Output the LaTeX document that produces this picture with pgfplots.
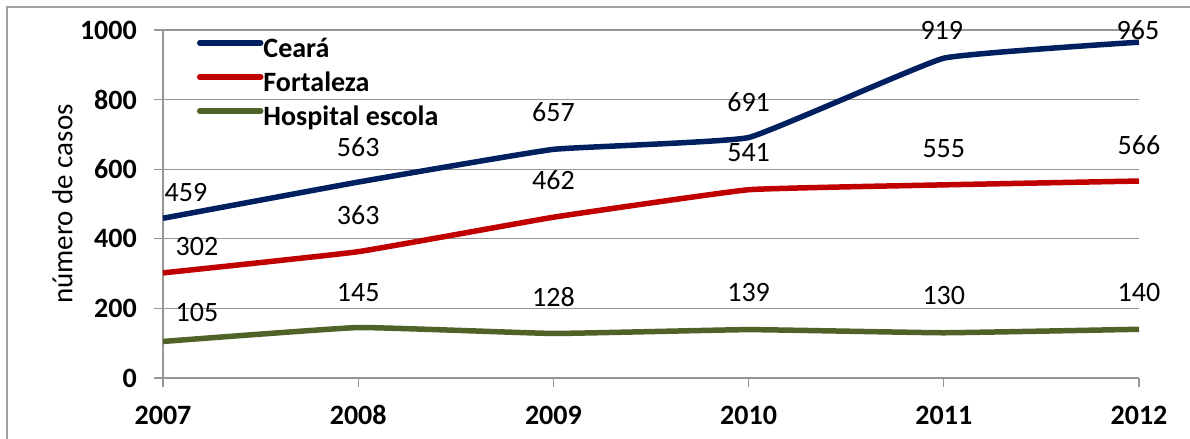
\documentclass[border=0pt]{standalone}
\usepackage{pgfplots}
\pgfplotsset{compat=1.18}
\usepackage{pgfplotstable}
\usepackage{fontspec}
\setmainfont{Carlito}
\definecolor{ceara}{RGB}{0,32,96}
\definecolor{forta}{RGB}{192,0,0}
\definecolor{hosp}{RGB}{79,98,40}
\definecolor{gridc}{RGB}{150,150,150}
\definecolor{framec}{RGB}{160,160,160}
\pgfplotstableread{
x y dx dy
2007 459 23 26
2008 563 0 35
2009 657 0 37
2010 691 0 35
2011 919 -2 28
2012 965 -1 12
}\ceara
\pgfplotstableread{
x y dx dy
2007 302 34 26
2008 363 0 37
2009 462 0 37
2010 541 0 37
2011 555 0 36
2012 566 0 36
}\forta
\pgfplotstableread{
x y dx dy
2007 105 34 29
2008 145 0 35
2009 128 0 36
2010 139 0 37
2011 130 0 37
2012 140 0 37
}\hosp
\newcommand{\fs}{\fontsize{28bp}{32bp}\selectfont}
\begin{document}
\begin{tikzpicture}
\begin{axis}[
  at={(0,0)}, anchor=south west,
  scale only axis, width=976bp, height=348bp,
  xmin=2007, xmax=2012, ymin=0, ymax=1000,
  xtick={2007,2008,2009,2010,2011,2012},
  ytick={0,200,400,600,800,1000},
  axis x line*=bottom, axis y line*=left,
  axis line style={gridc, line width=1.3bp},
  tick style={gridc, line width=1.3bp},
  tick align=outside, major tick length=9bp,
  ymajorgrids, grid style={gridc, line width=1.3bp},
  /pgf/number format/assume math mode=true,
  /pgf/number format/1000 sep={},
  xticklabel style={font=\fs\bfseries, anchor=center, inner sep=0pt, yshift=-28bp},
  yticklabel style={font=\fs\bfseries, anchor=east, inner sep=0pt, xshift=-17bp},
  every axis y label/.style={at={(axis description cs:-0.103,0.5)}, rotate=90, anchor=center, font=\fontsize{29bp}{32bp}\selectfont},
  ylabel={número de casos},
  clip=false,
  legend style={draw=none, fill=none, at={(axis description cs:0.0348,0.9856)}, anchor=north west,
    inner sep=0pt, outer sep=0pt, row sep=0pt, font=\fs\bfseries,
    nodes={inner sep=0pt, text height=22bp, text depth=12bp},
    /tikz/every even column/.append style={column sep=3bp}},
  legend cell align=left,
  legend image code/.code={\draw[#1, line cap=round] (0bp,9bp) -- (61bp,9bp);},
  nodes near coords,
  every node near coord/.append style={font=\fs, color=black, anchor=center, inner sep=0pt, xshift=\dx bp, yshift=\dy bp},
  visualization depends on={\thisrow{dx}\as\dx},
  visualization depends on={\thisrow{dy}\as\dy},
]
\addplot[ceara, line width=5.5bp, smooth, tension=0.18, mark=none] table[x=x, y=y] {\ceara};
\addlegendentry{Ceará}
\addplot[forta, line width=5.5bp, smooth, tension=0.18, mark=none] table[x=x, y=y] {\forta};
\addlegendentry{Fortaleza}
\addplot[hosp, line width=5.5bp, smooth, tension=0.18, mark=none] table[x=x, y=y] {\hosp};
\addlegendentry{Hospital escola}
\end{axis}
\draw[framec, line width=1.5bp] (-156bp,-61bp) -- (-156bp,371bp) -- (1030bp,371bp);
\pgfresetboundingbox
\useasboundingbox (-163bp,-61bp) rectangle (1027bp,378bp);
\end{tikzpicture}
\end{document}
